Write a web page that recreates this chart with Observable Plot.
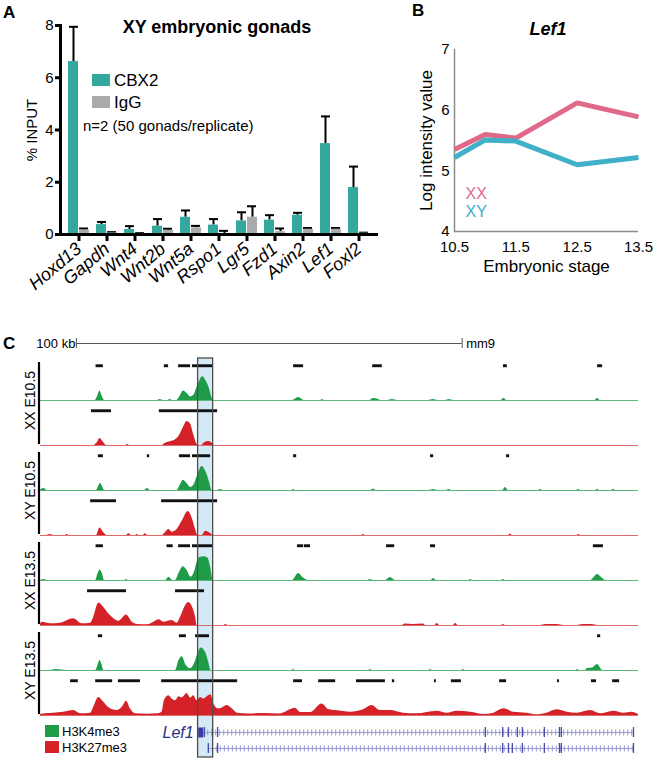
<!DOCTYPE html>
<html><head><meta charset="utf-8">
<script src="https://cdn.jsdelivr.net/npm/d3@7"></script>
<script src="https://cdn.jsdelivr.net/npm/@observablehq/plot@0.6"></script>
<style>
body{margin:0;background:#fff;}
#fig{position:relative;width:659px;height:760px;overflow:hidden;font-family:"Liberation Sans",Arial,sans-serif;color:#000;}
.abs{position:absolute;}
.t{position:absolute;white-space:nowrap;line-height:1;}
</style></head><body><div id="fig"></div>
<script>
// ---------- Panel A: ChIP-qPCR ----------
const genes = ["Hoxd13","Gapdh","Wnt4","Wnt2b","Wnt5a","Rspo1","Lgr5","Fzd1","Axin2","Lef1","Foxl2"];
const cbx2 = [6.62, 0.38, 0.19, 0.32, 0.66, 0.36, 0.52, 0.55, 0.74, 3.48, 1.80];
const cbx2Err = [1.33, 0.10, 0.13, 0.27, 0.26, 0.23, 0.33, 0.19, 0.09, 1.04, 0.80];
const igg = [0.17, 0.06, 0.03, 0.16, 0.25, 0.04, 0.66, 0.11, 0.20, 0.20, 0.05];
const iggErr = [0.06, 0.03, 0.02, 0.06, 0.08, 0.10, 0.42, 0.12, 0.05, 0.05, 0.02];
const yTicksA = [0, 2, 4, 6, 8];

// ---------- Panel B: Lef1 expression ----------
const stages = [10.5, 11, 11.5, 12.5, 13.5];
const lef1XX = [5.35, 5.60, 5.54, 6.12, 5.89];
const lef1XY = [5.22, 5.51, 5.49, 5.10, 5.22];
const stageTicks = [10.5, 11.5, 12.5, 13.5];
const yTicksB = [4, 5, 6, 7];

// ---------- Panel C: genome browser (positions in kb from locus start) ----------
const locusStartKb = 0, locusEndKb = 155;
const samples = ["XX E10.5", "XY E10.5", "XX E13.5", "XY E13.5"];
const histoneMarks = ["H3K4me3", "H3K27me3"];

const sig_XX_E105_K4 = [[0,0],[14.2,0],[14.8,4],[15.4,9.5],[16.0,4],[16.6,0],[30.3,0],[31.0,1],[31.8,0],[33.0,0],[33.6,1],[34.2,0],[35.3,0],[36.3,5],[37.0,9.5],[38.0,7],[38.9,3.5],[39.7,5],[40.6,13.5],[41.3,20],[42.0,24],[42.9,20],[43.8,12],[44.5,2],[44.8,0],[65.3,0],[66.9,3],[68.4,0],[72.6,0],[73.1,1],[73.6,0],[85.3,0],[86.3,2],[87.6,1],[88.2,0],[90.0,0],[91.2,1],[92.5,0],[100.6,0],[101.8,1],[103.0,0],[105.0,0],[106.0,1],[107.0,0],[119.3,0],[120.1,2],[120.9,0],[143.7,0],[144.4,2],[145.1,0],[155,0]];
const sig_XX_E105_K27 = [[0,0],[13.8,0],[14.7,2.7],[15.4,7],[16.2,3.7],[17.1,0],[22.1,0],[22.6,1],[23.1,0],[31.5,0],[32.4,2.3],[33.7,3.7],[35.0,5.7],[35.9,9.3],[37.0,18],[38.0,24.3],[38.9,21.7],[39.7,11],[40.6,1],[40.9,0],[41.8,0],[42.3,2],[43.6,4],[44.5,2.3],[45.1,0],[155,0]];
const sig_XY_E105_K4 = [[0,0.5],[0.9,2],[1.8,0],[14.5,0],[15.0,3.5],[15.6,7],[16.1,3.5],[16.6,0],[27.0,0],[27.7,2],[28.5,0],[35.4,0],[36.2,5],[37.0,10.3],[38.0,7],[38.9,3],[39.7,5],[40.6,13.7],[41.9,24.3],[42.9,18.7],[43.8,8.7],[44.5,0],[45.8,0],[46.6,1],[47.5,0],[65.2,0],[65.6,1],[66.1,0],[85.6,0],[86.3,1.5],[87.0,0],[100.8,0],[101.8,1],[103.0,0],[105.2,0],[105.9,1],[106.6,0],[119.8,0],[120.5,3],[121.3,0],[129.0,0],[129.6,1],[130.2,0],[138.9,0],[139.5,1],[140.1,0],[143.8,0],[144.4,1],[145.0,0],[147.9,0],[148.5,1],[149.1,0],[155,0]];
const sig_XY_E105_K27 = [[0,0],[1.5,0],[2.5,1],[3.5,0],[6.4,0],[6.9,1],[7.4,0],[14.5,0],[15.4,7.7],[16.4,2.7],[17.3,0],[22.3,0],[22.9,1.7],[23.6,0],[24.6,0],[25.1,1],[25.6,0],[26.6,0],[27.2,1.7],[27.8,0],[31.5,0],[33.3,6],[34.1,3.3],[35.4,6],[36.7,14.3],[38.3,24.3],[39.3,17.7],[40.2,6],[40.8,0],[41.9,0],[42.8,4.3],[44.1,2],[44.8,0],[83.2,0],[83.7,1],[84.2,0],[121.3,0],[121.8,1.5],[122.3,0],[139.0,0],[139.5,1],[140.0,0],[155,0]];
const sig_XX_E135_K4 = [[0,0],[0.9,1],[1.7,0],[14.3,0],[14.9,6.7],[15.4,10.7],[16.0,7.3],[16.6,0],[21.8,0],[22.3,1],[22.8,0],[32.4,0],[33.3,3.3],[34.3,0],[35.0,0],[35.9,7.3],[37.0,14],[38.0,10],[39.0,3.3],[39.9,8.3],[40.6,18.3],[41.3,23.3],[42.3,24],[43.4,22.7],[44.1,13.3],[44.8,0],[65.3,0],[66.9,7],[68.0,3],[69.4,0],[84.8,0],[85.5,1],[86.3,0],[89.4,0],[90.7,3],[92.0,0],[101.2,0],[101.9,2],[102.6,0],[111.0,0],[111.5,1],[112.0,0],[119.5,0],[120.0,1],[120.5,0],[142.6,0],[143.5,3],[144.4,6],[145.4,3],[146.5,0],[155,0]];
const sig_XX_E135_K27 = [[0,1],[0.4,3.3],[2.6,1.7],[5.2,2.3],[8.6,6.7],[10.8,1.7],[13.0,2.3],[13.8,8.3],[15.1,22.7],[16.4,18.3],[18.1,10],[20.3,4.3],[22.3,10.7],[23.8,3.3],[25.1,1],[27.7,0.7],[29.4,3.3],[30.7,5.7],[32.0,3.3],[34.1,5],[35.4,2.3],[36.3,8.3],[37.6,20],[38.4,23.3],[39.6,16.7],[40.2,8.3],[40.6,0],[47.5,0],[48.0,1],[48.7,0],[93.8,0],[94.5,1.5],[96.5,1],[99.3,1.5],[99.8,0],[102.2,0],[102.8,2],[103.5,0],[107.0,0],[107.6,2],[108.3,0],[119.5,0],[120.0,1],[120.5,0],[129.6,0],[131.0,1],[134.0,1],[135.6,0],[139.2,0],[140.5,1],[143.0,1],[144.4,0],[155,0]];
const sig_XY_E135_K4 = [[0,0],[2.6,0],[4.0,1],[6.9,0],[14.3,0],[14.9,5],[15.4,10],[16.0,5],[16.4,0],[35.0,0],[35.9,10],[36.7,14],[37.8,5],[38.9,1.7],[39.9,6.7],[40.8,16.7],[41.6,22.7],[42.8,18.3],[43.6,8.3],[44.2,0],[65.1,0],[65.6,1],[66.1,0],[85.0,0],[85.5,1],[86.0,0],[100.6,0],[101.1,1],[101.6,0],[109.1,0],[109.6,1],[110.1,0],[138.7,0],[139.2,1],[139.7,0],[141.2,0],[141.8,2],[143.1,2.5],[144.4,6],[145.7,0],[155,0]];
const sig_XY_E135_K27 = [[0,1],[1.3,1.7],[3.4,2.3],[6.0,3.3],[8.6,5],[10.4,1.7],[13.0,2.3],[13.8,8.3],[15.1,18.3],[16.4,13.3],[18.1,6.7],[19.9,5],[21.2,8.3],[22.3,14.3],[23.3,6.7],[24.6,1.7],[27.7,1.3],[30.2,1.7],[31.5,3.3],[32.1,15],[33.3,20],[34.1,16.7],[35.0,15],[35.9,19],[36.7,17.7],[38.0,22.3],[38.9,17.7],[39.7,20],[40.6,15],[41.5,18.3],[42.3,16.7],[43.2,19],[44.2,21],[44.9,11.7],[46.2,6.7],[47.1,7.7],[48.4,10],[49.7,6.7],[51.0,2.3],[54.0,1.5],[58.0,2],[62.0,1.5],[66.1,7.3],[67.4,3],[70.0,3],[73.0,11.7],[74.7,6],[76.5,5],[80.4,3.3],[83.7,5.7],[85.9,10],[88.1,5],[90.7,5],[94.1,2.3],[97.6,1.7],[102.8,4.3],[105.4,2.3],[108.0,4.3],[111.5,3.3],[114.9,1],[117.5,2.3],[120.1,6.7],[122.6,3.3],[126.1,2.3],[128.7,0.7],[131.3,2.3],[133.9,5.7],[136.5,3.3],[139.1,2.3],[142.6,5],[145.2,1.7],[148.6,4.3],[151.2,2.3],[153.3,3.3],[155,1]];

const calls_XX_E105_K4 = [[14.4,16.3],[32.1,33.2],[35.8,38.9],[39.4,44.6],[65.6,68.2],[86.1,88.6],[120.0,121.0],[144.4,145.7]];
const calls_XX_E105_K27 = [[13.2,18.4],[30.8,45.9]];
const calls_XY_E105_K4 = [[15.0,16.3],[27.7,28.3],[36.0,38.9],[39.4,44.1],[65.6,66.4],[101.1,101.9],[120.8,121.6]];
const calls_XY_E105_K27 = [[13.0,19.7],[31.4,45.9]];
const calls_XX_E135_K4 = [[14.4,16.3],[32.8,34.4],[35.8,38.9],[39.4,44.8],[66.6,68.2],[68.4,70.0],[89.7,91.8],[101.1,102.4],[143.3,145.9]];
const calls_XX_E135_K27 = [[12.2,22.3],[35.0,42.5]];
const calls_XY_E135_K4 = [[15.0,16.1],[36.0,37.8],[40.2,43.8],[144.4,145.2]];
const calls_XY_E135_K27 = [[7.8,9.8],[14.3,18.7],[20.2,25.9],[31.4,51.1],[65.6,67.9],[72.1,76.5],[81.9,89.4],[91.2,91.8],[102.1,102.6],[106.5,109.1],[119.0,120.8],[134.0,134.5],[142.8,144.1],[148.3,150.1]];

// Lef1 gene model
const geneName = "Lef1";
const lef1Transcripts = [{id: "t1", start: 42.3, end: 153.7}, {id: "t2", start: 43.5, end: 153.7}];
const lef1FirstExon = [{id: "t1", start: 41.0, end: 42.3}];
const lef1ExonsT1 = [42.5, 44.6, 45.9, 115.3, 119.8, 121.3, 123.6, 124.9, 130.6, 134.5, 135.0, 153.7];
const lef1ExonsT2 = [43.5, 45.9, 115.3, 119.8, 121.3, 122.3, 124.9, 130.6, 134.5, 135.0, 153.7];
const highlightKb = [{start: 40.85, end: 44.75}];
const scaleBar = [{start: 9.3, end: 109.3, label: "100 kb", genome: "mm9"}];

// ---------- styling ----------
const FONT = '"Liberation Sans", Arial, sans-serif';
const TEAL = "#35a89d", GRAY = "#a8aaac", PINK = "#e0698a", BLUE = "#40afc8";
const GREEN = "#1f9c48", RED = "#d42228", GREEN_LINE = "#5bb97a", RED_LINE = "#e06a6a";
const NAVY = "#2b2d86", EXON = "#4a4caa", CHEV = "#9a9bd5";
const baseStyle = {background: "transparent", overflow: "visible", fontFamily: FONT};

const fig = document.getElementById("fig");
function place(node, left, top) {
  const d = document.createElement("div");
  d.className = "abs"; d.style.left = left + "px"; d.style.top = top + "px";
  d.appendChild(node); fig.appendChild(d); return d;
}
function label(text, x, y, o = {}) {
  const d = document.createElement("div");
  d.className = "t"; d.textContent = text;
  const a = o.anchor === "middle" ? -50 : o.anchor === "end" ? -100 : 0;
  Object.assign(d.style, {left: x + "px", top: y + "px", fontSize: (o.size || 15) + "px",
    fontWeight: o.weight || "normal", fontStyle: o.style || "normal", color: o.color || "#000",
    transform: `translate(${a}%, -50%)`});
  fig.appendChild(d);
}
function swatch(x, y, w, h, color) {
  const d = document.createElement("div");
  Object.assign(d.style, {position: "absolute", left: x + "px", top: y + "px", width: w + "px", height: h + "px", background: color});
  fig.appendChild(d);
}

// ---------- Panel C build ----------
const trackSpecs = [
  ["XX E10.5", "H3K4me3", sig_XX_E105_K4, calls_XX_E105_K4],
  ["XX E10.5", "H3K27me3", sig_XX_E105_K27, calls_XX_E105_K27],
  ["XY E10.5", "H3K4me3", sig_XY_E105_K4, calls_XY_E105_K4],
  ["XY E10.5", "H3K27me3", sig_XY_E105_K27, calls_XY_E105_K27],
  ["XX E13.5", "H3K4me3", sig_XX_E135_K4, calls_XX_E135_K4],
  ["XX E13.5", "H3K27me3", sig_XX_E135_K27, calls_XX_E135_K27],
  ["XY E13.5", "H3K4me3", sig_XY_E135_K4, calls_XY_E135_K4],
  ["XY E13.5", "H3K27me3", sig_XY_E135_K27, calls_XY_E135_K27]
];
const trackNames = trackSpecs.map(([s, m]) => s + " " + m);
const trackRows = trackSpecs.map(([s, m]) => ({track: s + " " + m, mark: m}));
const sigRows = trackSpecs.flatMap(([s, m, sig]) => sig.map(([kb, h]) => ({track: s + " " + m, mark: m, kb, h})));
const callRows = trackSpecs.flatMap(([s, m, , calls]) => calls.map(([start, end]) => ({track: s + " " + m, start, end})));
const sampleRows = samples.map(s => ({sample: s, k4: s + " H3K4me3", k27: s + " H3K27me3"}));
const exonRows = [...lef1ExonsT1.map(kb => ({id: "t1", kb})), ...lef1ExonsT2.map(kb => ({id: "t2", kb}))];

const xC = {domain: [locusStartKb, locusEndKb], axis: null};
const W = 659, ML = 40, MR = 21;

// highlight fill (behind)
place(Plot.plot({width: W, height: 399, marginLeft: ML, marginRight: MR, marginTop: 0, marginBottom: 0,
  style: baseStyle, x: xC,
  marks: [Plot.rect(highlightKb, {x1: "start", x2: "end", fill: "#d3eaf6"})]}), 0, 358);

// tracks
place(Plot.plot({width: W, height: 364, marginLeft: ML, marginRight: MR, marginTop: 0, marginBottom: 0,
  style: baseStyle, x: xC,
  y: {domain: [0, 45.5], axis: null},
  fy: {domain: trackNames, padding: 0, axis: null},
  color: {domain: histoneMarks, range: [GREEN, RED]},
  marks: [
    Plot.ruleY(trackRows.filter(d => d.mark === "H3K4me3"), {fy: "track", y: () => 0, stroke: GREEN_LINE, strokeWidth: 1.2}),
    Plot.ruleY(trackRows.filter(d => d.mark === "H3K27me3"), {fy: "track", y: () => 0, stroke: RED_LINE, strokeWidth: 1.2}),
    Plot.areaY(sigRows, {x: "kb", y: "h", fy: "track", z: "track", fill: "mark", curve: "monotone-x"}),
    Plot.rect(callRows, {x1: "start", x2: "end", fy: "track", insetTop: 9.3, insetBottom: 32.8, fill: "#111"}),
    Plot.ruleX(sampleRows, {x: () => locusStartKb, fy: "k4", insetTop: 7, dx: -1.5, strokeWidth: 2.2}),
    Plot.ruleX(sampleRows, {x: () => locusStartKb, fy: "k27", insetBottom: 1, dx: -1.5, strokeWidth: 2.2}),
    Plot.text(sampleRows, {fy: "k4", y: () => 0, text: "sample", frameAnchor: "left", textAnchor: "middle", dx: -10, rotate: -90, fontSize: 14})
  ]}), 0, 353);

// gene model
place(Plot.plot({width: W, height: 40, marginLeft: ML, marginRight: MR, marginTop: 4, marginBottom: 4,
  style: baseStyle, x: xC,
  y: {domain: ["t1", "t2"], padding: 0, axis: null},
  marks: [
    Plot.ruleY(lef1Transcripts, {y: "id", x1: "start", x2: "end", stroke: CHEV, strokeWidth: 1}),
    Plot.ruleY(lef1Transcripts, {y: "id", x1: "start", x2: "end", stroke: CHEV, strokeWidth: 6, strokeDasharray: "1,3"}),
    Plot.ruleY(lef1FirstExon, {y: "id", x1: "start", x2: "end", stroke: "#3a3ca6", strokeWidth: 10}),
    Plot.tickX(exonRows, {x: "kb", y: "id", insetTop: 3, insetBottom: 3, stroke: EXON, strokeWidth: 1.3}),
    Plot.text(lef1FirstExon, {x: "start", y: "id", text: () => geneName, textAnchor: "end", dx: -5, fontSize: 16, fontStyle: "italic", fill: NAVY})
  ]}), 0, 720);

// highlight outline (front)
place(Plot.plot({width: W, height: 399, marginLeft: ML, marginRight: MR, marginTop: 0, marginBottom: 0,
  style: baseStyle, x: xC,
  marks: [Plot.rect(highlightKb, {x1: "start", x2: "end", fill: "none", stroke: "#4d4d4d", strokeWidth: 1.3})]}), 0, 358);

// scale bar
place(Plot.plot({width: W, height: 20, marginLeft: ML, marginRight: MR, marginTop: 5, marginBottom: 5,
  style: baseStyle, x: xC, y: {domain: [-1, 1], axis: null},
  marks: [
    Plot.ruleY(scaleBar, {x1: "start", x2: "end", y: () => 0, stroke: "#555"}),
    Plot.ruleX(scaleBar, {x: "start", stroke: "#555"}),
    Plot.ruleX(scaleBar, {x: "end", stroke: "#555"}),
    Plot.text(scaleBar, {x: "start", y: () => 0, text: "label", textAnchor: "end", dx: -1, fontSize: 13}),
    Plot.text(scaleBar, {x: "end", y: () => 0, text: "genome", textAnchor: "start", dx: 4, fontSize: 13})
  ]}), 0, 333);

// ---------- Panel A ----------
const rowsA = genes.map((g, i) => ({gene: g, cbx2: cbx2[i], cbx2Err: cbx2Err[i], igg: igg[i], iggErr: iggErr[i]}));
place(Plot.plot({width: 390, height: 300, marginLeft: 60, marginRight: 12, marginTop: 25, marginBottom: 66,
  style: baseStyle,
  x: {domain: genes, paddingInner: 0.233, paddingOuter: 0.157, axis: null},
  y: {domain: [0, 8], axis: null},
  marks: [
    Plot.ruleX(rowsA, {x: "gene", y1: "cbx2", y2: d => d.cbx2 + d.cbx2Err, dx: -5.5, strokeWidth: 2}),
    Plot.tickY(rowsA, {x: "gene", y: d => d.cbx2 + d.cbx2Err, insetLeft: 1, insetRight: 11, strokeWidth: 2}),
    Plot.ruleX(rowsA, {x: "gene", y1: "igg", y2: d => d.igg + d.iggErr, dx: 5.5, strokeWidth: 2}),
    Plot.tickY(rowsA, {x: "gene", y: d => d.igg + d.iggErr, insetLeft: 11, insetRight: 1, strokeWidth: 2}),
    Plot.barY(rowsA, {x: "gene", y: "cbx2", insetRight: 11, fill: TEAL}),
    Plot.barY(rowsA, {x: "gene", y: "igg", insetLeft: 11, fill: GRAY}),
    Plot.ruleY([0], {strokeWidth: 3}),
    Plot.frame({anchor: "left", strokeWidth: 3}),
    Plot.axisY({ticks: yTicksA, tickFormat: d => String(d), tickSize: 5, tickPadding: 2, strokeWidth: 3, fontSize: 15, label: null}),
    Plot.axisX({tickRotate: -40, tickSize: 7, tickPadding: 5, strokeWidth: 3, fontSize: 18, fontStyle: "italic", label: null}),
    Plot.text(["% INPUT"], {frameAnchor: "left", textAnchor: "middle", dx: -28, rotate: -90, fontSize: 15})
  ]}), 0, 0);

// ---------- Panel B ----------
const rowsB = stages.flatMap((s, i) => [{stage: s, sex: "XX", v: lef1XX[i]}, {stage: s, sex: "XY", v: lef1XY[i]}]);
place(Plot.plot({width: 264, height: 240, marginLeft: 59, marginRight: 21, marginTop: 9, marginBottom: 49,
  style: baseStyle,
  x: {domain: [10.5, 13.5], axis: null},
  y: {domain: [4, 7], axis: null},
  color: {domain: ["XX", "XY"], range: [PINK, BLUE]},
  marks: [
    Plot.frame({anchor: "left", stroke: "#8c8c8c", strokeWidth: 1.5}),
    Plot.ruleY([4], {stroke: "#8c8c8c", strokeWidth: 1.5}),
    Plot.axisX({ticks: stageTicks, tickFormat: d => d.toFixed(1), tickSize: 0, tickPadding: 10, fontSize: 15, label: null}),
    Plot.axisY({ticks: yTicksB, tickFormat: d => String(d), tickSize: 0, tickPadding: 5, fontSize: 15, label: null}),
    Plot.line(rowsB, {x: "stage", y: "v", stroke: "sex", strokeWidth: 5, strokeLinecap: "butt"}),
    Plot.text(["Log intensity value"], {frameAnchor: "left", textAnchor: "middle", dx: -28, rotate: -90, fontSize: 17}),
    Plot.text(["Embryonic stage"], {frameAnchor: "bottom", dy: 40, fontSize: 17}),
    Plot.text(["XX"], {frameAnchor: "bottom-left", dx: 11, dy: -33, fill: PINK, textAnchor: "start", fontSize: 16}),
    Plot.text(["XY"], {frameAnchor: "bottom-left", dx: 11, dy: -15, fill: BLUE, textAnchor: "start", fontSize: 16})
  ]}), 395, 40);

// ---------- HTML titles & legends ----------
label("A", 3, 12, {size: 17, weight: "bold"});
label("XY embryonic gonads", 217, 27, {size: 18, weight: "bold", anchor: "middle"});
swatch(92, 74, 18, 12, TEAL); label("CBX2", 114, 80, {size: 17});
swatch(92, 96, 18, 12, GRAY); label("IgG", 114, 102, {size: 17});
label("n=2 (50 gonads/replicate)", 83, 125, {size: 15});
label("B", 412, 10, {size: 17, weight: "bold"});
label("Lef1", 548, 29, {size: 18, weight: "bold", style: "italic", anchor: "middle"});
label("C", 3, 343, {size: 17, weight: "bold"});
swatch(45, 725, 14, 12, GREEN); label("H3K4me3", 62, 731, {size: 13});
swatch(45, 741, 14, 12, RED); label("H3K27me3", 62, 747, {size: 13});
</script></body></html>
